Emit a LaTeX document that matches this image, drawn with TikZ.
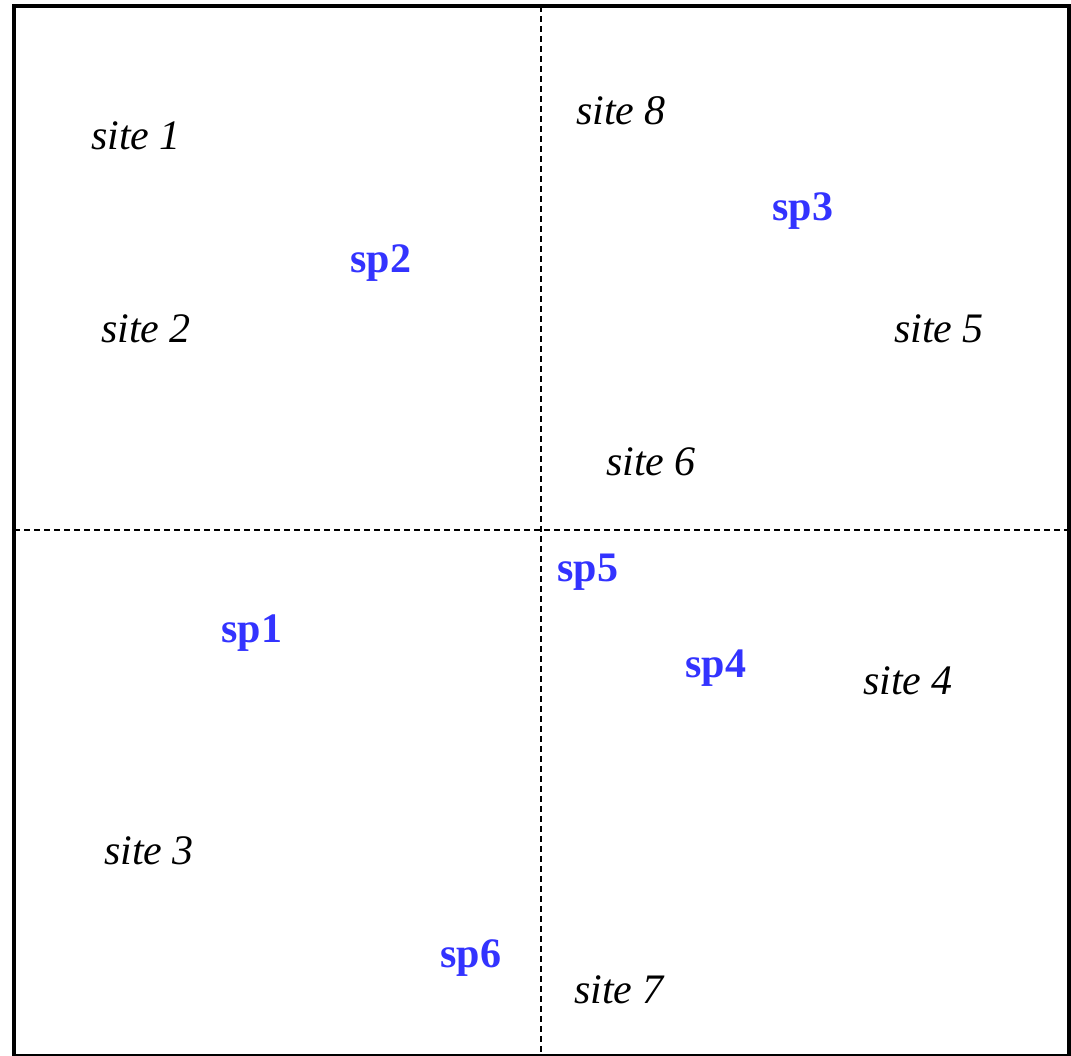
\documentclass[tikz,border=0pt]{standalone}
\usepackage{fontspec}
\setmainfont{Liberation Serif}
\usepackage{xcolor}
\usetikzlibrary{positioning}
\definecolor{spblue}{RGB}{51,51,255}

\begin{document}
\begin{tikzpicture}[x=0.5pt, y=-0.5pt,
    site/.style={font=\fontsize{21}{25}\selectfont\itshape, text=black},
    spec/.style={font=\fontsize{21}{25}\selectfont\bfseries, text=spblue},
    split/.style={draw=black, line width=0.8pt, dash pattern=on 3pt off 2pt}
]
\useasboundingbox (0,0) rectangle (1071,1055);
\draw[line width=2pt] (14,6) rectangle (1069,1055.5);

% quadrant lines
\coordinate (top) at (541,6);
\coordinate (bottom) at (541,1055);
\coordinate (left) at (14,530);
\coordinate (right) at (1069,530);
\draw[split] (top) -- (bottom);
\draw[split] (left) -- (right);

% sites
\node[site] (site1) at (136,136) {site 1};
\node[site] (site2) at (146,329) {site 2};
\node[site] (site3) at (149,851) {site 3};
\node[site] (site4) at (908,681) {site 4};
\node[site] (site5) at (939,329) {site 5};
\node[site] (site6) at (651,462) {site 6};
\node[site] (site7) at (619,990) {site 7};
\node[site] (site8) at (621,111) {site 8};

% species
\node[spec] (sp1) at (252,633) {sp1};
\node[spec] (sp2) at (381,263) {sp2};
\node[spec] (sp3) at (803,211) {sp3};
\node[spec] (sp4) at (716,668) {sp4};
\node[spec] (sp5) at (588,572) {sp5};
\node[spec] (sp6) at (471,958) {sp6};
\end{tikzpicture}
\end{document}
